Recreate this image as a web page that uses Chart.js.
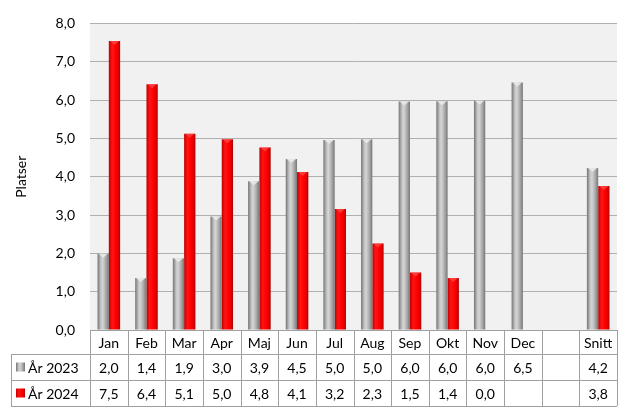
<!DOCTYPE html>
<html>
<head>
<meta charset="utf-8">
<script src="https://cdn.jsdelivr.net/npm/chart.js@4/dist/chart.umd.min.js"></script>
<style>
  html, body { margin: 0; padding: 0; background: #fff; }
  #wrap { width: 622px; height: 410px; position: relative; }
</style>
</head>
<body>
<div id="wrap"><canvas id="myChart"></canvas></div>
<script>
const months = ['Jan', 'Feb', 'Mar', 'Apr', 'Maj', 'Jun', 'Jul', 'Aug', 'Sep', 'Okt', 'Nov', 'Dec', '', 'Snitt'];
const year2023 = [1.99, 1.36, 1.87, 2.96, 3.88, 4.46, 4.96, 4.98, 5.96, 5.97, 5.98, 6.46, null, 4.23];
const year2024 = [7.54, 6.41, 5.12, 4.98, 4.76, 4.12, 3.16, 2.26, 1.5, 1.36, 0, null, null, 3.76];
const seriesNames = ['År 2023', 'År 2024'];
const yTicks = [0, 1, 2, 3, 4, 5, 6, 7, 8];

const FONT = 'Lato';
const catPct = 0.6;

function fmt(v) {
    if (v === null || v === undefined) return '';
    return v.toFixed(1).replace('.', ',');
}

// cylinder-like shading for the bars
function barFill(c, flat, stops) {
    const chart = c.chart;
    const x = chart.scales.x;
    if (c.dataIndex === undefined || !x || !chart.chartArea) return flat;
    const catW = (x.right - x.left) / months.length;
    const bw = catW * catPct / 2;
    const left = x.getPixelForValue(c.dataIndex) - bw + c.datasetIndex * bw;
    const g = chart.ctx.createLinearGradient(left, 0, left + bw, 0);
    stops.forEach(s => g.addColorStop(s[0], s[1]));
    return g;
}
const grayStops = [[0, '#747474'], [0.3, '#c6c6c6'], [0.45, '#d4d4d4'], [0.75, '#a8a8a8'], [1, '#767676']];
const redStops = [[0, '#c00000'], [0.3, '#ff1414'], [0.6, '#ff0000'], [0.85, '#e00000'], [1, '#a80000']];

const plotBg = {
    id: 'plotBg',
    beforeDraw(chart) {
        const a = chart.chartArea, ctx = chart.ctx;
        ctx.save();
        ctx.fillStyle = '#f1f1f1';
        ctx.fillRect(a.left, a.top, a.right - a.left, a.bottom - a.top);
        ctx.restore();
    }
};

// little cone tip on top of each bar
const barTips = {
    id: 'barTips',
    afterDatasetsDraw(chart) {
        const ctx = chart.ctx;
        chart.data.datasets.forEach((ds, di) => {
            chart.getDatasetMeta(di).data.forEach((bar, i) => {
                if (!ds.data[i]) return;
                const l = bar.x - bar.width / 2, r = bar.x + bar.width / 2, t = bar.y;
                ctx.save();
                ctx.fillStyle = di === 0 ? 'rgba(235,235,235,0.85)' : 'rgba(255,90,90,0.6)';
                ctx.beginPath();
                ctx.moveTo(l + 1, t);
                ctx.lineTo(r - 1, t);
                ctx.lineTo(bar.x, t + 4);
                ctx.closePath();
                ctx.fill();
                ctx.restore();
            });
        });
    }
};

// data table under the plot
const dataTable = {
    id: 'dataTable',
    afterDraw(chart) {
        const ctx = chart.ctx, x = chart.scales.x, a = chart.chartArea;
        const catW = (x.right - x.left) / months.length;
        const top = a.bottom, r1 = top + 24, r2 = r1 + 26, r3 = r2 + 26;
        const tableLeft = 11;
        ctx.save();
        ctx.strokeStyle = '#a0a0a0';
        ctx.lineWidth = 1;
        ctx.beginPath();
        ctx.moveTo(x.left, top + 0.5); ctx.lineTo(x.right, top + 0.5);
        [r1, r2, r3].forEach(y => { ctx.moveTo(tableLeft, y + 0.5); ctx.lineTo(x.right, y + 0.5); });
        for (let i = 0; i <= months.length; i++) {
            const xx = Math.round(x.left + i * catW) + 0.5;
            ctx.moveTo(xx, top); ctx.lineTo(xx, r3);
        }
        ctx.moveTo(tableLeft + 0.5, r1); ctx.lineTo(tableLeft + 0.5, r3);
        ctx.stroke();

        ctx.font = '14px ' + FONT;
        ctx.fillStyle = '#000';
        ctx.textBaseline = 'middle';
        const rows = [[year2023, r1, r2], [year2024, r2, r3]];
        rows.forEach((row, ri) => {
            const cy = (row[1] + row[2]) / 2 + 1;
            ctx.textAlign = 'center';
            row[0].forEach((v, i) => {
                ctx.fillText(fmt(v), x.getPixelForValue(i), cy);
            });
            // legend key
            const ks = 9, kx = 16, ky = cy - ks / 2 - 1;
            const g = ctx.createLinearGradient(kx, 0, kx + ks, 0);
            (ri === 0 ? grayStops : redStops).forEach(s => g.addColorStop(s[0], s[1]));
            ctx.fillStyle = g;
            ctx.fillRect(kx, ky, ks, ks);
            ctx.fillStyle = '#000';
            ctx.textAlign = 'left';
            ctx.fillText(seriesNames[ri], 28, cy);
        });
        ctx.restore();
    }
};

new Chart(document.getElementById('myChart'), {
    type: 'bar',
    data: {
        labels: months,
        datasets: [
            {
                label: seriesNames[0],
                data: year2023,
                backgroundColor: c => barFill(c, '#a6a6a6', grayStops),
                borderWidth: 0
            },
            {
                label: seriesNames[1],
                data: year2024,
                backgroundColor: c => barFill(c, '#ff0000', redStops),
                borderWidth: 0
            }
        ]
    },
    options: {
        responsive: true,
        maintainAspectRatio: false,
        animation: false,
        layout: { padding: { left: 9, right: 5, top: 9, bottom: 4 } },
        datasets: { bar: { categoryPercentage: catPct, barPercentage: 1.0 } },
        plugins: { legend: { display: false }, tooltip: { enabled: false } },
        scales: {
            x: {
                grid: { display: false, drawTicks: false },
                border: { display: false },
                ticks: { font: { family: FONT, size: 14 }, color: '#000', padding: 5, maxRotation: 0, autoSkip: false },
                afterFit(s) { s.height = 76; }
            },
            y: {
                min: 0,
                max: 8,
                afterBuildTicks(s) { s.ticks = yTicks.map(v => ({ value: v })); },
                grid: { color: '#b0b0b0', drawTicks: false },
                border: { display: false },
                ticks: {
                    font: { family: FONT, size: 14 },
                    color: '#000',
                    padding: 15,
                    callback: v => fmt(v)
                },
                title: {
                    display: true,
                    text: 'Platser',
                    font: { family: FONT, size: 14 },
                    color: '#000',
                    padding: { top: 4, bottom: 0 }
                },
                afterFit(s) { s.width = 81; }
            }
        }
    },
    plugins: [plotBg, barTips, dataTable]
});
</script>
</body>
</html>
